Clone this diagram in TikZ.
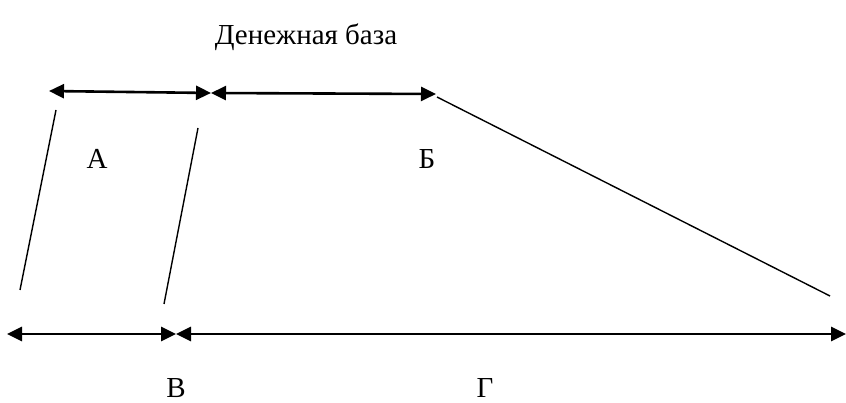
\documentclass[tikz,border=0pt]{standalone}
\usepackage{fontspec}
\setmainfont{Liberation Serif}
\newfontfamily\rusfont{Liberation Serif}
\usetikzlibrary{arrows.meta}

\begin{document}
\begin{tikzpicture}[
  x=1pt, y=-1pt,
  span/.style={line width=2.6pt, {Triangle[length=15pt,width=14pt]}-{Triangle[length=15pt,width=14pt]}},
  edge/.style={line width=1.4pt},
  lbl/.style={font=\rusfont\fontsize{29}{34}\selectfont, inner sep=0pt}
]
\useasboundingbox (0,0) rectangle (846,403);

% ===== coordinates =====
\coordinate (TA) at (49,91);
\coordinate (TM) at (211,93);
\coordinate (TB) at (436,94);
\coordinate (BA) at (7,334);
\coordinate (BM) at (176,334);
\coordinate (BB) at (846,334);

% ===== top arrows =====
\draw[span] (TA) -- (TM);
\draw[span] (TM) -- (TB);

% ===== bottom arrows =====
\draw[span] (BA) -- (BM);
\draw[span] (BM) -- (BB);

% ===== side lines =====
\coordinate (L1t) at (56,110);  \coordinate (L1b) at (20,290);
\coordinate (L2t) at (198,128); \coordinate (L2b) at (164,304);
\coordinate (Dt) at (437,97);   \coordinate (Db) at (830,296);
\draw[edge] (L1t) -- (L1b);
\draw[edge] (L2t) -- (L2b);
\draw[edge] (Dt) -- (Db);

% ===== labels =====
\node[lbl] (title) at (306,37) {Денежная база};
\node[lbl] (la) at (97,159) {А};
\node[lbl] (lb) at (427,159) {Б};
\node[lbl] (lv) at (176,388) {В};
\node[lbl] (lg) at (485,388) {Г};

\end{tikzpicture}
\end{document}
